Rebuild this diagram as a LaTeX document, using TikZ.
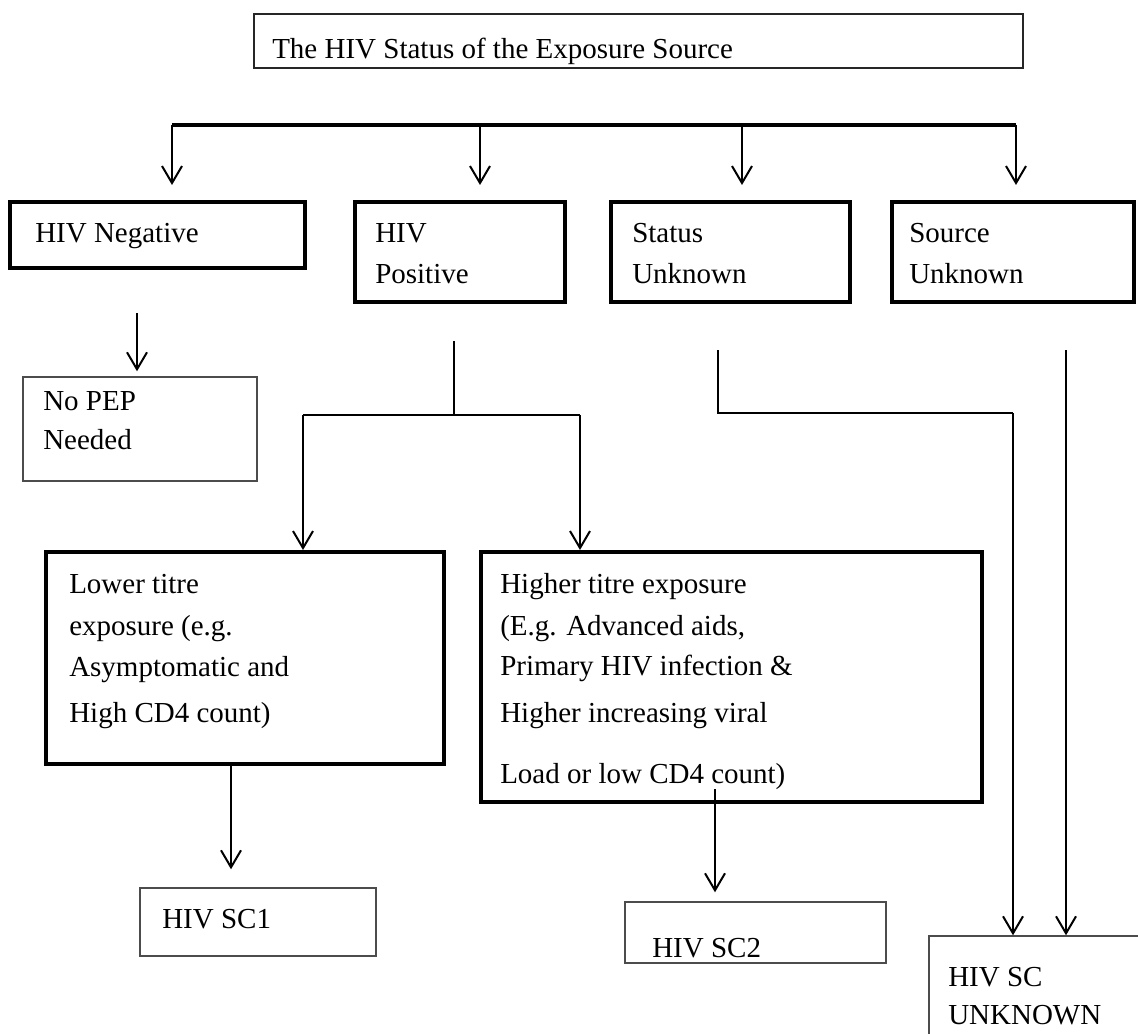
\documentclass[tikz,border=0pt]{standalone}
\usepackage{fontspec}
\setmainfont{Liberation Serif}
\usetikzlibrary{arrows.meta,fit}
\tikzset{
  heavybox/.style={draw=black, line width=3pt, inner sep=0pt},
  lightbox/.style={draw=black!70, line width=1.1pt, inner sep=0pt},
  titlebox/.style={draw=black!85, line width=1.1pt, inner sep=0pt},
  txt/.style={anchor=base west, inner sep=0pt, font=\fontsize{21.75}{26}\selectfont},
  conn/.style={line width=1.5pt},
  arr/.style={conn, -{Straight Barb[length=12.75pt,width=15pt]}},
  bar/.style={line width=3pt},
}
\begin{document}
\begin{tikzpicture}[x=0.75pt,y=-0.75pt]
\useasboundingbox (0,0) rectangle (1138,1034);
\clip (0,0) rectangle (1138,1034);
\fill[white] (0,0) rectangle (1138,1034);

% title
\node[titlebox, fit={(254,14) (1023,68)}] (title) {};
\node[txt] (ttitle) at (272,59) {The HIV Status of the Exposure Source};

% bar
\coordinate (b1) at (172,125);
\coordinate (b2) at (480,125);
\coordinate (b3) at (742,125);
\coordinate (b4) at (1016,125);
\draw[bar] (b1) -- (b4);

% second row
\node[heavybox, fit={(10,202) (305,268)}] (neg) {};
\node[heavybox, fit={(355,202) (565,302)}] (pos) {};
\node[heavybox, fit={(611,202) (850,302)}] (stat) {};
\node[heavybox, fit={(892,202) (1134,302)}] (src) {};
\node[txt] (tneg) at (35,243) {HIV Negative};
\node[txt] (tposa) at (375,243) {HIV};
\node[txt] (tposb) at (375,283) {Positive};
\node[txt] (tstata) at (632,243) {Status};
\node[txt] (tstatb) at (632,283) {Unknown};
\node[txt] (tsrca) at (909,243) {Source};
\node[txt] (tsrcb) at (909,283) {Unknown};

\draw[arr, shorten >=11.25pt] (b1) -- (b1 |- neg.north);
\draw[arr, shorten >=11.25pt] (b2) -- (b2 |- pos.north);
\draw[arr, shorten >=11.25pt] (b3) -- (b3 |- stat.north);
\draw[arr, shorten >=11.25pt] (b4) -- (b4 |- src.north);

% No PEP
\node[lightbox, fit={(23,377) (257,481)}] (nopep) {};
\node[txt] (tnopepa) at (43,410) {No PEP};
\node[txt] (tnopepb) at (43,449) {Needed};
\coordinate (n0) at (137,313);
\draw[arr, shorten >=3.75pt] (n0) -- (n0 |- nopep.north);

% lower / higher
\node[heavybox, fit={(46,552) (444,764)}] (lower) {};
\node[heavybox, fit={(481,552) (982,802)}] (higher) {};
\node[txt] (tla) at (69,593) {Lower titre};
\node[txt] (tlb) at (69,635) {exposure (e.g.};
\node[txt] (tlc) at (69,676) {Asymptomatic and};
\node[txt] (tld) at (69,722) {High CD4 count)};
\node[txt] (tha) at (500,593) {Higher titre exposure};
\node[txt] (thb) at (500,635) {(E.g. Advanced aids,};
\node[txt] (thc) at (500,675) {Primary HIV infection \&};
\node[txt] (thd) at (500,722) {Higher increasing viral};
\node[txt] (the) at (500,783) {Load or low CD4 count)};

\coordinate (p0) at (454,341);
\coordinate (p1) at (454,415);
\coordinate (pl) at (303,415);
\coordinate (pr) at (580,415);
\draw[conn] (p0) -- (p1);
\draw[conn] (pl) -- (pr);
\draw[arr] (pl) -- (pl |- lower.north);
\draw[arr] (pr) -- (pr |- higher.north);

% SC boxes
\node[lightbox, fit={(140,888) (376,956)}] (sc1) {};
\node[txt] (tsc1) at (162,928) {HIV SC1};
\node[lightbox, fit={(625,902) (886,963)}] (sc2) {};
\node[txt] (tsc2) at (652,957) {HIV SC2};
\node[lightbox, fit={(929,936) (1160,1060)}] (scu) {};
\node[txt] (tscua) at (948,986) {HIV SC};
\node[txt] (tscub) at (948,1024) {UNKNOWN};

\coordinate (l0) at (231,764);
\draw[arr, shorten >=13.5pt] (l0) -- (l0 |- sc1.north);
\coordinate (h0) at (715,789);
\draw[arr, shorten >=6.75pt] (h0) -- (h0 |- sc2.north);

% unknown branches
\coordinate (s0) at (718,350);
\coordinate (s1) at (718,413);
\coordinate (s2) at (1013,413);
\draw[conn] (s0) -- (s1) -- (s2);
\draw[arr] (s2) -- (s2 |- scu.north);
\coordinate (u0) at (1066,350);
\draw[arr] (u0) -- (u0 |- scu.north);
\end{tikzpicture}
\end{document}
